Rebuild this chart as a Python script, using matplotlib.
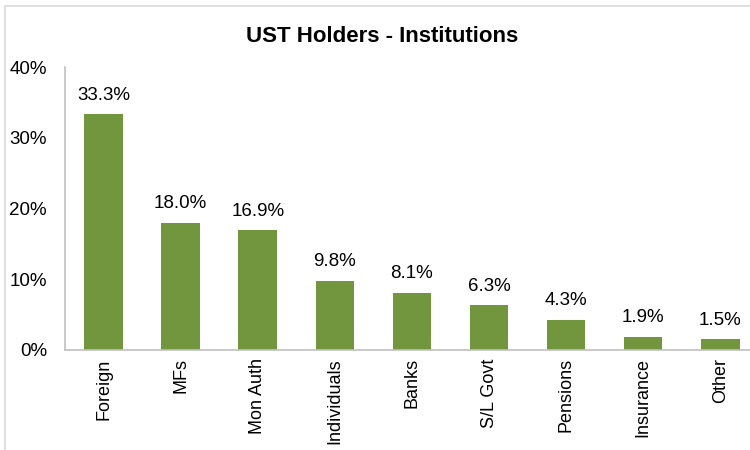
import matplotlib
matplotlib.use("Agg")
import matplotlib.pyplot as plt
from matplotlib.patches import Rectangle
from matplotlib.ticker import FuncFormatter

plt.rcParams["font.family"] = ["Liberation Sans", "DejaVu Sans"]

categories = ["Foreign", "MFs", "Mon Auth", "Individuals", "Banks",
              "S/L Govt", "Pensions", "Insurance", "Other"]
shares = [33.3, 18.0, 16.9, 9.8, 8.1, 6.3, 4.3, 1.9, 1.5]
yticks = [0, 10, 20, 30, 40]

GREEN = "#71963d"
GRID = "#c0c0c0"

fig = plt.figure(figsize=(7.5, 4.5), dpi=100)
# chart frame
fig.patches.append(Rectangle((5 / 750, -0.02), 1.0, 1 - 6 / 450 + 0.02,
                             transform=fig.transFigure, fill=False,
                             edgecolor="#d9d9d9", lw=1.2))

ax = fig.add_axes([65 / 750, 100 / 450, 690 / 750, 283 / 450])
xs = range(len(categories))
ax.bar(xs, shares, width=0.5, color=GREEN)
for x, v in zip(xs, shares):
    ax.text(x, v + 1.5, f"{v:.1f}%", ha="center", va="bottom", fontsize=13.5)

ax.set_xlim(-0.5, 8.45)
ax.set_ylim(0, 40)
ax.set_yticks(yticks)
ax.yaxis.set_major_formatter(FuncFormatter(lambda v, p: f"{v:.0f}%"))
ax.set_xticks(list(xs))
ax.set_xticklabels(categories, rotation=90, fontsize=13)
ax.tick_params(axis="y", labelsize=13.5, length=0, pad=13)
ax.tick_params(axis="x", length=0, pad=6)
for s in ["top", "right"]:
    ax.spines[s].set_visible(False)
for s in ["left", "bottom"]:
    ax.spines[s].set_color(GRID)
    ax.spines[s].set_linewidth(1.2)

fig.text(382 / 750, 1 - 37 / 450, "UST Holders - Institutions", ha="center",
         va="center", fontsize=16, fontweight="bold")

fig.savefig("out.png", dpi=100)
